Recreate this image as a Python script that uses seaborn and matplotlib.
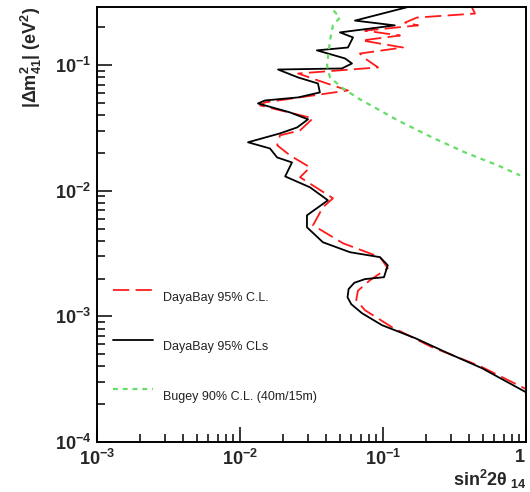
import numpy as np
import pandas as pd
import matplotlib
matplotlib.use("Agg")
import matplotlib.pyplot as plt
import seaborn as sns
from matplotlib.ticker import LogLocator, FuncFormatter, NullFormatter

# ---- data (sin^2 2theta_14, |dm^2_41| in eV^2) ----
cls_sin2 = [0.168, 0.0637, 0.121, 0.050, 0.0617, 0.0569, 0.0345, 0.0542, 0.0607, 0.0516,
            0.01845, 0.0255, 0.0351, 0.0362, 0.0255, 0.01496, 0.01336, 0.0224, 0.0299, 0.0251,
            0.01905, 0.01138, 0.0162, 0.0182, 0.0231, 0.0207, 0.0309, 0.0412, 0.0294, 0.0294,
            0.0380, 0.0588, 0.0953, 0.108, 0.1016, 0.0748, 0.0630, 0.0575, 0.0565, 0.0600,
            0.0713, 0.0984, 0.1675, 0.285, 0.492, 1.0]
cls_dm2 = [0.30, 0.226, 0.207, 0.182, 0.166, 0.138, 0.131, 0.113, 0.103, 0.094,
           0.0922, 0.0797, 0.0714, 0.0606, 0.0553, 0.0523, 0.0495, 0.0420, 0.0370, 0.0319,
           0.0286, 0.0243, 0.0217, 0.0184, 0.0168, 0.0130, 0.01064, 0.00839, 0.00637, 0.00512,
           0.00389, 0.00324, 0.00296, 0.00255, 0.00205, 0.00198, 0.00185, 0.00165, 0.00142, 0.00125,
           0.00106, 0.000851, 0.000672, 0.000509, 0.000387, 0.000249]

cl_sin2 = [0.406, 0.440, 0.173, 0.143, 0.176, 0.0748, 0.1315, 0.0713, 0.138, 0.069,
           0.0748, 0.0923, 0.0255, 0.0351, 0.0569, 0.01496, 0.0138, 0.0324, 0.0263, 0.01905,
           0.0182, 0.0224, 0.0309, 0.0263, 0.0447, 0.0380, 0.0324, 0.0525, 0.0953, 0.108,
           0.0811, 0.0668, 0.0650, 0.0748, 0.1156, 0.220, 0.477, 1.0]
cl_dm2 = [0.31, 0.257, 0.239, 0.218, 0.207, 0.188, 0.172, 0.157, 0.138, 0.1236,
          0.113, 0.0958, 0.0857, 0.0755, 0.0628, 0.0505, 0.0478, 0.0377, 0.0302, 0.0276,
          0.0230, 0.0191, 0.01534, 0.0128, 0.00871, 0.00738, 0.00531, 0.00382, 0.00296, 0.00242,
          0.00194, 0.00160, 0.00135, 0.00112, 0.00082, 0.000569, 0.000402, 0.000264]

bugey_sin2 = [0.0406, 0.050, 0.0447, 0.0426, 0.0406, 0.0426, 0.0525, 0.0690, 0.127, 0.220,
              0.374, 0.637, 0.908]
bugey_dm2 = [0.31, 0.239, 0.207, 0.157, 0.0993, 0.0797, 0.0652, 0.0534, 0.0363, 0.0266,
             0.0202, 0.0159, 0.01325]

labels = ["DayaBay 95% C.L.", "DayaBay 95% CLs", "Bugey 90% C.L. (40m/15m)"]

# ---- style ----
sns.set_style("ticks")
plt.rcParams["font.family"] = ["Liberation Sans", "DejaVu Sans"]
plt.rcParams["mathtext.fontset"] = "custom"
plt.rcParams["mathtext.rm"] = "Liberation Sans"
plt.rcParams["mathtext.it"] = "Liberation Sans:italic"
plt.rcParams["mathtext.bf"] = "Liberation Sans:bold"

fig = plt.figure(figsize=(5.3, 4.92), dpi=100, facecolor="white")
ax = fig.add_axes([0.183, 0.1016, 0.8094, 0.8842])
ax.set_facecolor("white")

df_cl = pd.DataFrame({"x": cl_sin2, "y": cl_dm2})
df_cls = pd.DataFrame({"x": cls_sin2, "y": cls_dm2})
df_b = pd.DataFrame({"x": bugey_sin2, "y": bugey_dm2})

sns.lineplot(data=df_cl, x="x", y="y", sort=False, estimator=None, ax=ax,
             color="#ff1a1a", lw=1.3, label=labels[0])
ax.lines[-1].set_dashes((9, 3.5))
sns.lineplot(data=df_cls, x="x", y="y", sort=False, estimator=None, ax=ax,
             color="black", lw=1.3, label=labels[1])
sns.lineplot(data=df_b, x="x", y="y", sort=False, estimator=None, ax=ax,
             color="#66dd66", lw=1.6, label=labels[2])
ax.lines[-1].set_dashes((2.2, 2.2))

ax.set_xscale("log")
ax.set_yscale("log")
ax.set_xlim(1e-3, 1)
ax.set_ylim(1e-4, 0.29)

def fmt(v, pos):
    e = int(round(np.log10(v)))
    if e == 0:
        return r"$\mathbf{1}$"
    return r"$\mathbf{10^{%d}}$" % e

ax.xaxis.set_major_locator(LogLocator(base=10, numticks=10))
ax.yaxis.set_major_locator(LogLocator(base=10, numticks=10))
ax.xaxis.set_minor_locator(LogLocator(base=10, subs=np.arange(2, 10), numticks=20))
ax.yaxis.set_minor_locator(LogLocator(base=10, subs=np.arange(2, 10), numticks=20))
ax.xaxis.set_major_formatter(FuncFormatter(fmt))
ax.yaxis.set_major_formatter(FuncFormatter(fmt))
ax.xaxis.set_minor_formatter(NullFormatter())
ax.yaxis.set_minor_formatter(NullFormatter())

ax.tick_params(axis="both", which="both", direction="in", top=False, right=False,
               color="black", width=1.1, labelsize=13)
ax.tick_params(axis="y", which="major", length=11, pad=4)
ax.tick_params(axis="y", which="minor", length=6)
ax.tick_params(axis="x", which="major", length=11, pad=5)
ax.tick_params(axis="x", which="minor", length=6)

for s in ax.spines.values():
    s.set_visible(True)
    s.set_color("black")
    s.set_linewidth(1.4)

ax.set_xlabel(r"$\mathbf{sin^{2}2\theta_{\ 14}}$", fontsize=13, loc="right", labelpad=-1)
ax.set_ylabel(r"$\mathbf{|\Delta m^{2}_{41}|\ (eV^{2})}$", fontsize=13, loc="top", labelpad=8)

fig.canvas.draw()
for lab in ax.get_xticklabels():
    if lab.get_text() == r"$\mathbf{1}$":
        lab.set_horizontalalignment("right")

leg = ax.legend(loc="upper left", bbox_to_anchor=(0.01, 0.385), frameon=False,
                handlelength=3.2, labelspacing=3.0, fontsize=9, handletextpad=0.8)
for t in leg.get_texts():
    t.set_color("#222222")
    t.set_y(-6)

fig.savefig("out.png", dpi=100, facecolor="white")
